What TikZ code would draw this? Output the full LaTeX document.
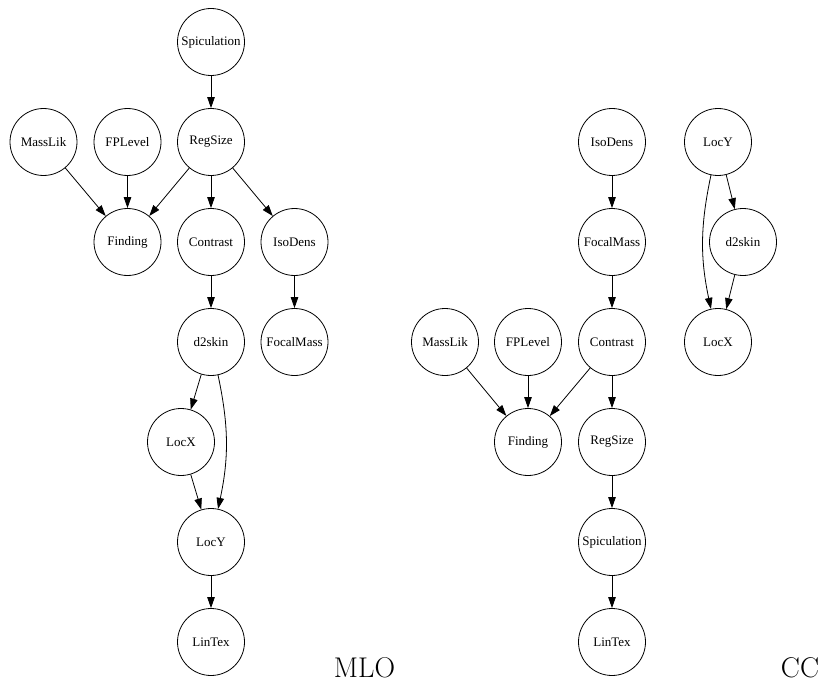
\documentclass[tikz,border=0pt]{standalone}
\usepackage{fontspec}
\setmainfont{Liberation Serif}
\newfontfamily\lmfont{Latin Modern Roman}
\usetikzlibrary{arrows.meta}
\begin{document}
\begin{tikzpicture}[x=1pt,y=-1pt,
  var/.style={draw,circle,minimum size=67pt,inner sep=0pt,line width=0.8pt,
    font=\fontsize{13}{15}\selectfont},
  edge/.style={line width=0.8pt,-{Triangle[length=11pt,width=7.5pt]}},
  caption/.style={font=\lmfont\fontsize{28.5}{32}\selectfont,inner sep=0pt}]
\useasboundingbox (0,0) rectangle (822,682);

% MLO network
\node[var] (mSpic) at (211,42) {Spiculation};
\node[var] (mMass) at (43.5,142) {MassLik};
\node[var] (mFP)   at (127.5,142) {FPLevel};
\node[var] (mReg)  at (211,142) {RegSize};
\node[var] (mFind) at (127.5,242) {Finding};
\node[var] (mCon)  at (211,242) {Contrast};
\node[var] (mIso)  at (294.5,242) {IsoDens};
\node[var] (mD2)   at (211,342) {d2skin};
\node[var] (mFoc)  at (294.5,342) {FocalMass};
\node[var] (mLX)   at (181,442) {LocX};
\node[var] (mLY)   at (211,542) {LocY};
\node[var] (mLin)  at (211,642) {LinTex};
\node[caption] (mlo) at (364.5,668) {MLO};

\draw[edge] (mSpic) -- (mReg);
\draw[edge] (mMass) -- (mFind);
\draw[edge] (mFP) -- (mFind);
\draw[edge] (mReg) -- (mFind);
\draw[edge] (mReg) -- (mCon);
\draw[edge] (mReg) -- (mIso);
\draw[edge] (mCon) -- (mD2);
\draw[edge] (mIso) -- (mFoc);
\draw[edge] (mD2) -- (mLX);
\draw[edge] (mD2) to[out=-78,in=78] (mLY);
\draw[edge] (mLX) -- (mLY);
\draw[edge] (mLY) -- (mLin);

% CC network
\node[var] (cIso)  at (612,142) {IsoDens};
\node[var] (cLY)   at (718,142) {LocY};
\node[var] (cFoc)  at (612,242) {FocalMass};
\node[var] (cD2)   at (743,242) {d2skin};
\node[var] (cMass) at (445,342) {MassLik};
\node[var] (cFP)   at (528,342) {FPLevel};
\node[var] (cCon)  at (612,342) {Contrast};
\node[var] (cLX)   at (718,342) {LocX};
\node[var] (cFind) at (528,442) {Finding};
\node[var] (cReg)  at (612,442) {RegSize};
\node[var] (cSpic) at (612,542) {Spiculation};
\node[var] (cLin)  at (612,642) {LinTex};
\node[caption] (cc) at (800,668) {CC};

\draw[edge] (cIso) -- (cFoc);
\draw[edge] (cFoc) -- (cCon);
\draw[edge] (cLY) -- (cD2);
\draw[edge] (cLY) to[out=-102,in=102] (cLX);
\draw[edge] (cD2) -- (cLX);
\draw[edge] (cMass) -- (cFind);
\draw[edge] (cFP) -- (cFind);
\draw[edge] (cCon) -- (cFind);
\draw[edge] (cCon) -- (cReg);
\draw[edge] (cReg) -- (cSpic);
\draw[edge] (cSpic) -- (cLin);
\end{tikzpicture}
\end{document}
